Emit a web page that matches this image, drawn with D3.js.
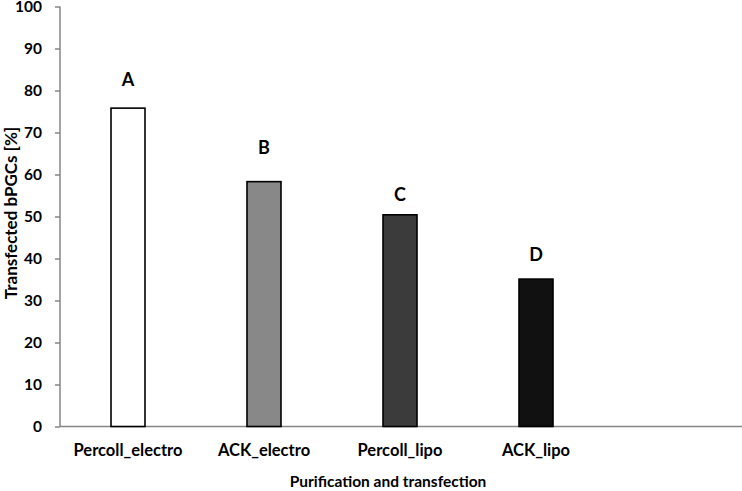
<!DOCTYPE html>
<html>
<head>
<meta charset="utf-8">
<script src="https://cdn.jsdelivr.net/npm/d3@7"></script>
<style>
  body { margin: 0; background: #fff; }
  text { font-family: Lato, "Open Sans", sans-serif; font-weight: bold; fill: #000; }
</style>
</head>
<body>
<div id="viz"></div>
<script>
// data
var categories = ['Percoll_electro', 'ACK_electro', 'Percoll_lipo', 'ACK_lipo', ''];
var values = [75.8, 58.3, 50.4, 35.1];
var letters = ['A', 'B', 'C', 'D'];
var letterAt = [81.1, 64.9, 53.6, 39.3];   // where each letter sits (y units)
var barColors = ['#ffffff', '#888888', '#3b3b3b', '#111111'];
var yTicks = [0, 10, 20, 30, 40, 50, 60, 70, 80, 90, 100];

var width = 742,
    height = 491,
    plotLeft = 60,
    plotRight = 740,
    plotTop = 6.5,
    plotBottom = 426.5;

var svg = d3.select('#viz')
  .append('svg')
    .attr('width', width)
    .attr('height', height);

var xScale = d3.scaleBand()
    .domain(categories)
    .range([plotLeft, plotRight]);

var yScale = d3.scaleLinear()
    .domain([0, 100])
    .range([plotBottom, plotTop]);

var barWidth = xScale.bandwidth() * 0.25;

// y axis
var yAxis = svg.append('g')
    .attr('transform', 'translate(' + plotLeft + ',0)')
    .call(d3.axisLeft(yScale).tickValues(yTicks).tickSize(5).tickPadding(13));
yAxis.select('.domain').attr('stroke', '#868686').attr('stroke-width', 1.5)
  .attr('d', 'M0,' + plotTop + 'V' + plotBottom);
yAxis.selectAll('.tick line').attr('stroke', '#868686').attr('stroke-width', 1.5);
yAxis.selectAll('.tick text')
    .attr('fill', '#000')
    .style('font-size', '15.5px')
    .style('font-weight', 'bold')
    .style('font-family', 'Lato, sans-serif');

// x axis line
svg.append('line')
    .attr('x1', plotLeft)
    .attr('x2', width)
    .attr('y1', yScale(0))
    .attr('y2', yScale(0))
    .attr('stroke', '#868686')
    .attr('stroke-width', 1.5);

// bars
svg.selectAll('rect.bar')
  .data(values)
  .enter().append('rect')
    .attr('class', 'bar')
    .attr('x', function(d, i) {
      return xScale(categories[i]) + (xScale.bandwidth() - barWidth) / 2;
    })
    .attr('y', function(d) { return yScale(d); })
    .attr('width', barWidth)
    .attr('height', function(d) { return yScale(0) - yScale(d); })
    .attr('fill', function(d, i) { return barColors[i]; })
    .attr('stroke', '#000')
    .attr('stroke-width', 1.6);

// group letters
svg.selectAll('text.letter')
  .data(letters)
  .enter().append('text')
    .attr('class', 'letter')
    .attr('x', function(d, i) { return xScale(categories[i]) + xScale.bandwidth() / 2; })
    .attr('y', function(d, i) { return yScale(letterAt[i]); })
    .attr('text-anchor', 'middle')
    .style('font-size', '18px')
    .text(function(d) { return d; });

// category labels
svg.selectAll('text.cat')
  .data(categories.filter(function(c) { return c !== ''; }))
  .enter().append('text')
    .attr('class', 'cat')
    .attr('x', function(d) { return xScale(d) + xScale.bandwidth() / 2; })
    .attr('y', 456)
    .attr('text-anchor', 'middle')
    .style('font-size', '16.5px')
    .text(function(d) { return d; });

// axis titles
svg.append('text')
    .attr('x', 388)
    .attr('y', 487)
    .attr('text-anchor', 'middle')
    .style('font-size', '15.5px')
    .text('Purification and transfection');

svg.append('text')
    .attr('transform', 'translate(17,213) rotate(-90)')
    .attr('text-anchor', 'middle')
    .style('font-size', '17px')
    .text('Transfected bPGCs [%]');
</script>
</body>
</html>
